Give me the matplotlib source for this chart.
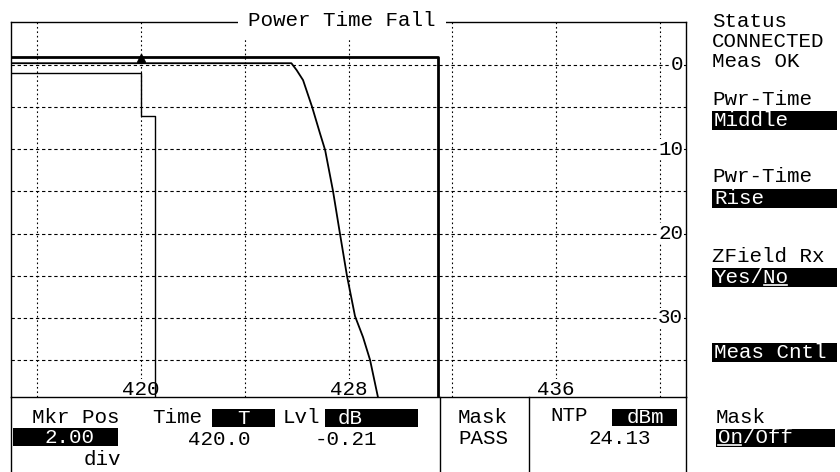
import matplotlib
matplotlib.use('Agg')
import matplotlib.pyplot as plt
from matplotlib.patches import Rectangle
from matplotlib.transforms import blended_transform_factory, offset_copy

plt.rcParams['font.family'] = ['Liberation Mono', 'DejaVu Sans Mono']

# axis ranges: time (bits) and level (dB down from burst top)
t_min, t_max = 415.0, 441.0
db_top, db_bottom = -5.1, 39.4

x_grid = [416, 420, 424, 428, 432, 436, 440]
y_grid = [0, 5, 10, 15, 20, 25, 30, 35]
x_labels = [420, 428, 436]
y_labels = [0, 10, 20, 30]

# measured falling edge
trace_t = [415.0, 425.8, 426.0, 426.25, 426.6, 426.9, 427.1, 427.4,
           427.67, 427.94, 428.25, 428.56, 428.83, 429.14]
trace_db = [-0.21, -0.21, 0.6, 1.8, 5.0, 8.1, 10.1, 14.9,
            20.0, 25.0, 29.8, 32.3, 35.0, 39.5]

# mask limits
upper_t = [415.0, 431.45, 431.45]
upper_db = [-1.0, -1.0, 40.0]
lower_t = [415.0, 420.0, 420.0, 420.55, 420.55]
lower_db = [1.0, 1.0, 6.0, 6.0, 40.0]

mkr_t, mkr_db = 420.0, -0.21

W, H = 840, 472
FS = 15
PITCH = 0.6 * FS * 100 / 72   # monospace advance in pixels

fig = plt.figure(figsize=(W / 100, H / 100), dpi=100)
ax = fig.add_axes([11 / W, 1 - 397 / H, 675 / W, 375 / H])
ax.set_xlim(t_min, t_max)
ax.set_ylim(db_bottom, db_top)
ax.set_xticks(x_grid)
ax.set_yticks(y_grid)
ax.tick_params(length=0, labelbottom=False, labelleft=False)
ax.xaxis.grid(True, color='k', lw=0.8, ls=(0, (1.5, 2.5)))
ax.yaxis.grid(True, color='k', lw=0.8, ls=(0, (3, 2.5)))
ax.set_axisbelow(True)
for s in ax.spines.values():
    s.set_linewidth(1.0)

ax.plot(upper_t, upper_db, '-', color='k', lw=2.0, zorder=3)
ax.plot(lower_t, lower_db, '-', color='k', lw=1.0, zorder=3)
ax.plot(trace_t, trace_db, '-', color='k', lw=1.3, zorder=4)
mk_tr = offset_copy(ax.transData, fig=fig, y=5, units='dots')
ax.plot([mkr_t], [mkr_db], '^', color='k', ms=6, transform=mk_tr, zorder=5)

# scale labels drawn inside the graticule
bx = blended_transform_factory(ax.transData, ax.transAxes)
for v in x_labels:
    ax.text(v, 2 / 375, str(v), transform=bx, ha='center', va='baseline',
            fontsize=FS, zorder=2.5,
            bbox=dict(facecolor='white', edgecolor='none', pad=0.5))
by = blended_transform_factory(ax.transAxes, ax.transData)
for v in y_labels:
    ax.text(672 / 675, v, str(v), transform=by, ha='right', va='center',
            fontsize=FS, zorder=2.5,
            bbox=dict(facecolor='white', edgecolor='none', pad=0.5))

# overlay in pixel units for the title, soft keys and readouts
ov = fig.add_axes([0, 0, 1, 1])
ov.set_xlim(0, W)
ov.set_ylim(H, 0)
ov.axis('off')

ov.text(342, 26, 'Power Time Fall', ha='center', va='baseline', fontsize=FS,
        bbox=dict(facecolor='white', edgecolor='none', pad=7))

for x in [11, 440, 529, 686]:
    ov.plot([x, x], [397, H], color='k', lw=1.0)


def txt(x, y, s, ha='left', inv=False):
    ov.text(x, y, s, ha=ha, va='baseline', fontsize=FS,
            color='white' if inv else 'black')


def inv_box(x0, x1, y0, y1):
    ov.add_patch(Rectangle((x0, y0), x1 - x0, y1 - y0, facecolor='black',
                           edgecolor='none'))


def underline(x0, first, n, y):
    ov.plot([x0 + first * PITCH, x0 + (first + n) * PITCH - 2], [y, y],
            color='white', lw=1.2)


# status and soft keys
txt(712, 27, 'Status')
txt(712, 47, 'CONNECTED')
txt(712, 67, 'Meas OK')
txt(712, 105, 'Pwr-Time')
inv_box(712, 837, 111, 130)
txt(714, 126, 'Middle', inv=True)
txt(712, 182, 'Pwr-Time')
inv_box(712, 837, 189, 208)
txt(714, 204, 'Rise', inv=True)
txt(712, 262, 'ZField Rx')
inv_box(712, 837, 268, 287)
txt(714, 283, 'Yes/No', inv=True)
underline(714, 4, 2, 285)
inv_box(712, 837, 343, 362)
txt(714, 358, 'Meas Cntl', inv=True)
txt(716, 423, 'Mask')
inv_box(716, 835, 429, 447)
txt(718, 443, 'On/Off', inv=True)
underline(718, 0, 2, 445)

# readouts under the graticule
txt(32, 423, 'Mkr Pos')
inv_box(13, 118, 428, 446)
txt(69, 443, '2.00', ha='center', inv=True)
txt(121, 465, 'div', ha='right')
txt(152, 423, 'Time')
inv_box(212, 275, 409, 427)
txt(244, 424, 'T', ha='center', inv=True)
txt(188, 445, '420.0')
txt(283, 423, 'Lvl')
inv_box(325, 418, 409, 427)
txt(350, 424, 'dB', ha='center', inv=True)
txt(315, 445, '-0.21')
txt(458, 423, 'Mask')
txt(458, 444, 'PASS')
txt(550, 421, 'NTP')
inv_box(612, 677, 409, 426)
txt(645, 423, 'dBm', ha='center', inv=True)
txt(588, 444, '24.13')

fig.savefig('out.png', dpi=100, facecolor='white')
